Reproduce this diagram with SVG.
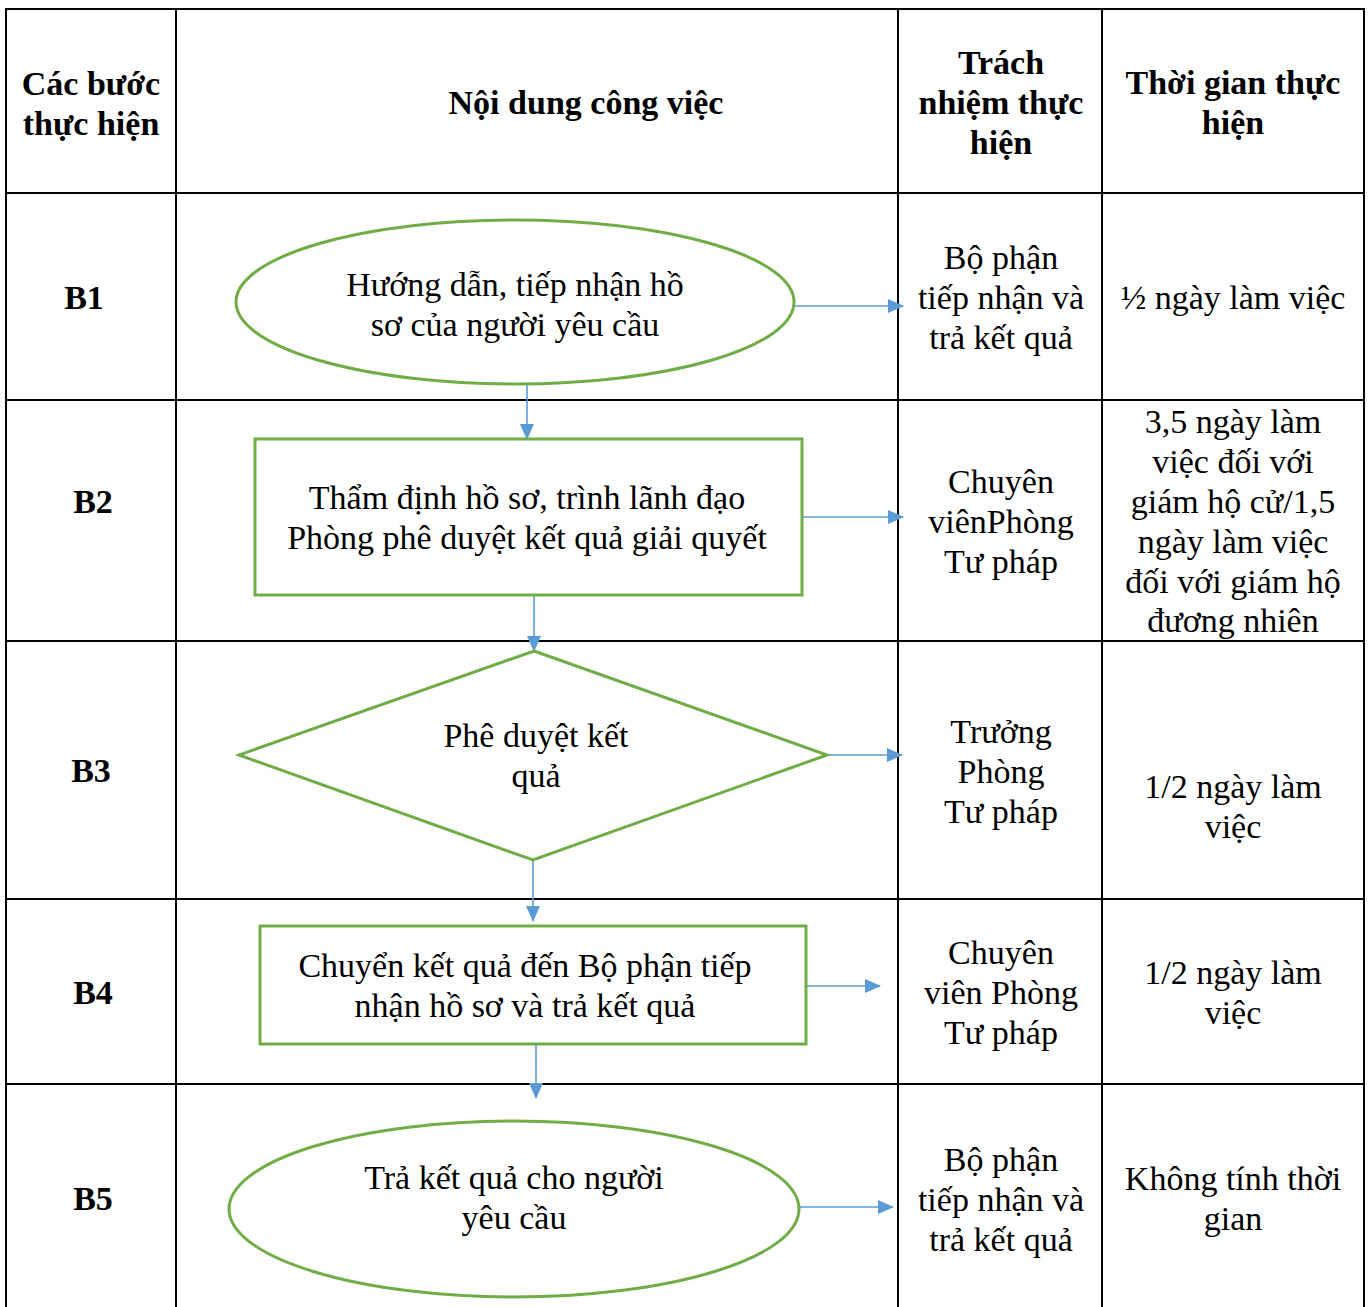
<svg xmlns="http://www.w3.org/2000/svg" width="1370" height="1307" viewBox="0 0 1370 1307">
<style>
.grid{stroke:#000;stroke-width:2;fill:none}
.shape{fill:#fff;stroke:#70AD47;stroke-width:3}
.conn{stroke:#5B9BD5;stroke-width:1.6;fill:none}
text{font-family:"Liberation Serif","Times New Roman",serif;font-size:34px;text-anchor:middle;fill:#000}
.b{font-weight:bold}
</style>
<defs>
<marker id="ah" markerWidth="16" markerHeight="14" refX="15" refY="7" orient="auto" markerUnits="userSpaceOnUse">
<path d="M0,0 L16,7 L0,14 Z" fill="#5B9BD5"/>
</marker>
</defs>
<rect width="1370" height="1307" fill="#fff"/>
<g id="table">
<path class="grid" d="M6,1307 V9 H1364 V1307 M176,9 V1307 M898,9 V1307 M1102,9 V1307 M6,193 H1364 M6,400 H1364 M6,641 H1364 M6,899 H1364 M6,1084 H1364"/>
</g>
<g id="header">
<text class="b" x="91" y="95">Các bước</text>
<text class="b" x="91" y="135">thực hiện</text>
<text class="b" x="586" y="114">Nội dung công việc</text>
<text class="b" x="1001" y="74">Trách</text>
<text class="b" x="1001" y="114">nhiệm thực</text>
<text class="b" x="1001" y="154">hiện</text>
<text class="b" x="1233" y="94">Thời gian thực</text>
<text class="b" x="1233" y="134">hiện</text>
</g>
<g id="steps">
<text class="b" x="84" y="309">B1</text>
<text class="b" x="93" y="513">B2</text>
<text class="b" x="91" y="782">B3</text>
<text class="b" x="93" y="1004">B4</text>
<text class="b" x="93" y="1210">B5</text>
</g>
<g id="connectors">
<line class="conn" x1="794" y1="306" x2="903" y2="306" marker-end="url(#ah)"/>
<line class="conn" x1="527" y1="384" x2="527" y2="439" marker-end="url(#ah)"/>
<line class="conn" x1="803" y1="517" x2="903" y2="517" marker-end="url(#ah)"/>
<line class="conn" x1="534" y1="595" x2="534" y2="651" marker-end="url(#ah)"/>
<line class="conn" x1="827" y1="755" x2="902" y2="755" marker-end="url(#ah)"/>
<line class="conn" x1="533" y1="860" x2="533" y2="921" marker-end="url(#ah)"/>
<line class="conn" x1="803" y1="986" x2="880" y2="986" marker-end="url(#ah)"/>
<line class="conn" x1="536" y1="1044" x2="536" y2="1098" marker-end="url(#ah)"/>
<line class="conn" x1="799" y1="1207" x2="893" y2="1207" marker-end="url(#ah)"/>
</g>
<g id="node-b1">
<ellipse class="shape" cx="515" cy="302" rx="279" ry="82"/>
<text x="515" y="296">Hướng dẫn, tiếp nhận hồ</text>
<text x="515" y="336">sơ của người yêu cầu</text>
</g>
<g id="node-b2">
<rect class="shape" x="255" y="439" width="547" height="156"/>
<text x="527" y="509">Thẩm định hồ sơ, trình lãnh đạo</text>
<text x="527" y="549">Phòng phê duyệt kết quả giải quyết</text>
</g>
<g id="node-b3">
<polygon class="shape" points="534,651 827,755 533,860 239,755"/>
<text x="536" y="747">Phê duyệt kết</text>
<text x="536" y="787">quả</text>
</g>
<g id="node-b4">
<rect class="shape" x="260" y="926" width="546" height="118"/>
<text x="525" y="977">Chuyển kết quả đến Bộ phận tiếp</text>
<text x="525" y="1017">nhận hồ sơ và trả kết quả</text>
</g>
<g id="node-b5">
<ellipse class="shape" cx="514" cy="1209" rx="285" ry="88"/>
<text x="514" y="1189">Trả kết quả cho người</text>
<text x="514" y="1229">yêu cầu</text>
</g>
<g id="responsible">
<text x="1001" y="269">Bộ phận</text>
<text x="1001" y="309">tiếp nhận và</text>
<text x="1001" y="349">trả kết quả</text>
<text x="1001" y="493">Chuyên</text>
<text x="1001" y="533">viênPhòng</text>
<text x="1001" y="573">Tư pháp</text>
<text x="1001" y="743">Trưởng</text>
<text x="1001" y="783">Phòng</text>
<text x="1001" y="823">Tư pháp</text>
<text x="1001" y="964">Chuyên</text>
<text x="1001" y="1004">viên Phòng</text>
<text x="1001" y="1044">Tư pháp</text>
<text x="1001" y="1171">Bộ phận</text>
<text x="1001" y="1211">tiếp nhận và</text>
<text x="1001" y="1251">trả kết quả</text>
</g>
<g id="time">
<text x="1233" y="309">½ ngày làm việc</text>
<text x="1233" y="433">3,5 ngày làm</text>
<text x="1233" y="473">việc đối với</text>
<text x="1233" y="513">giám hộ cử/1,5</text>
<text x="1233" y="553">ngày làm việc</text>
<text x="1233" y="593">đối với giám hộ</text>
<text x="1233" y="632">đương nhiên</text>
<text x="1233" y="798">1/2 ngày làm</text>
<text x="1233" y="838">việc</text>
<text x="1233" y="984">1/2 ngày làm</text>
<text x="1233" y="1024">việc</text>
<text x="1233" y="1190">Không tính thời</text>
<text x="1233" y="1230">gian</text>
</g>
</svg>
